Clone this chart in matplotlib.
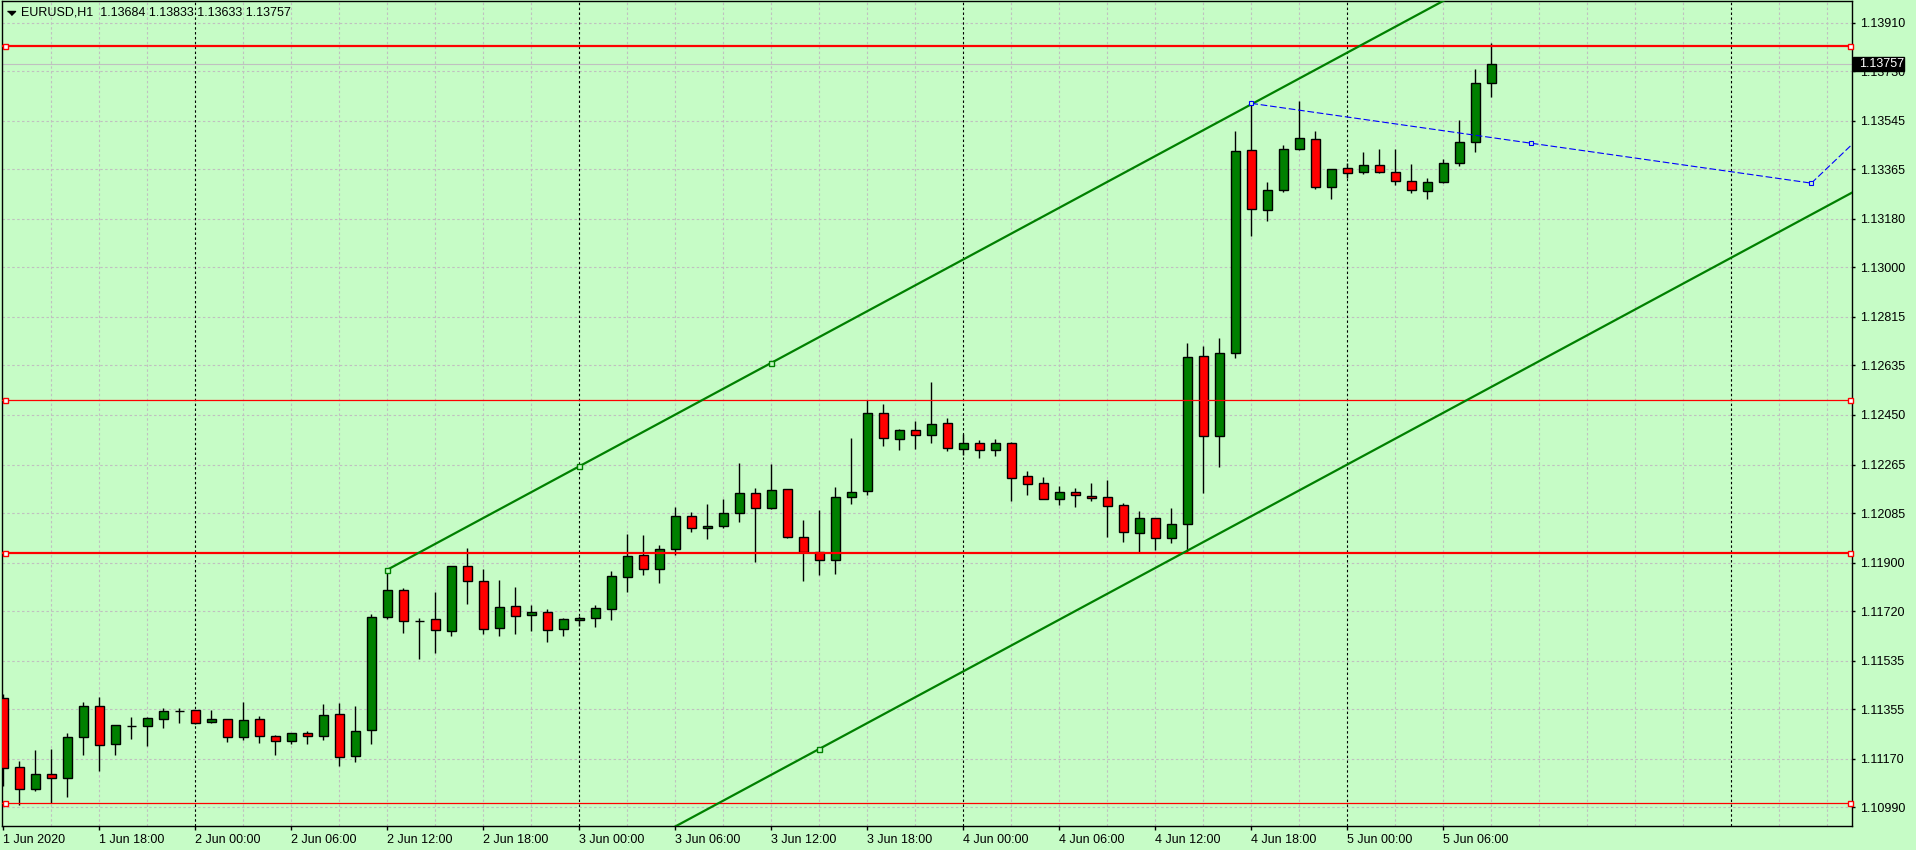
"""
EURUSD H1 蜡烛图（MT4 风格）复刻。
"""

import matplotlib
matplotlib.use("Agg")

import matplotlib.pyplot as plt
import matplotlib.transforms as mtransforms
import numpy as np
from matplotlib.patches import Rectangle


BG = "#c6fcc6"
GRID = "#c0c0c0"
GREEN = "#008000"
RED = "#ff0000"

symbol_text = "EURUSD,H1  1.13684 1.13833 1.13633 1.13757"

# 每根 K 线：开 / 高 / 低 / 收（1 Jun 12:00 起，每小时一根）
opens = [
    1.11395, 1.11139, 1.11057, 1.11112, 1.11098, 1.11250, 1.11366, 1.11224, 1.11293, 1.11291,
    1.11320, 1.11348, 1.11351, 1.11308, 1.11317, 1.11250, 1.11317, 1.11254, 1.11235, 1.11265,
    1.11254, 1.11336, 1.11180, 1.11276, 1.11697, 1.11797, 1.11684, 1.11689, 1.11645, 1.11887,
    1.11831, 1.11656, 1.11738, 1.11704, 1.11716, 1.11652, 1.11686, 1.11693, 1.11727, 1.11846,
    1.11928, 1.11876, 1.11950, 1.12073, 1.12028, 1.12036, 1.12084, 1.12158, 1.12103, 1.12173,
    1.11995, 1.11939, 1.11909, 1.12144, 1.12166, 1.12456, 1.12359, 1.12393, 1.12374, 1.12419,
    1.12322, 1.12345, 1.12319, 1.12345, 1.12222, 1.12196, 1.12138, 1.12162, 1.12147, 1.12144,
    1.12114, 1.12010, 1.12065, 1.11991, 1.12043, 1.12668, 1.12371, 1.12680, 1.13435, 1.13212,
    1.13286, 1.13439, 1.13476, 1.13297, 1.13368, 1.13353, 1.13379, 1.13353, 1.13320, 1.13282,
    1.13316, 1.13387, 1.13465, 1.13684,
]
highs = [
    1.11411, 1.11162, 1.11203, 1.11207, 1.11266, 1.11380, 1.11400, 1.11297, 1.11326, 1.11326,
    1.11359, 1.11359, 1.11353, 1.11352, 1.11319, 1.11382, 1.11330, 1.11259, 1.11267, 1.11273,
    1.11374, 1.11377, 1.11367, 1.11708, 1.11874, 1.11805, 1.11693, 1.11791, 1.11889, 1.11954,
    1.11877, 1.11836, 1.11809, 1.11742, 1.11727, 1.11693, 1.11702, 1.11742, 1.11869, 1.12007,
    1.12003, 1.11966, 1.12107, 1.12089, 1.12119, 1.12137, 1.12271, 1.12178, 1.12268, 1.12175,
    1.12059, 1.12096, 1.12182, 1.12364, 1.12506, 1.12491, 1.12397, 1.12428, 1.12573, 1.12439,
    1.12379, 1.12357, 1.12360, 1.12348, 1.12240, 1.12218, 1.12184, 1.12177, 1.12196, 1.12207,
    1.12121, 1.12091, 1.12067, 1.12103, 1.12717, 1.12707, 1.12735, 1.13507, 1.13610, 1.13316,
    1.13454, 1.13619, 1.13506, 1.13366, 1.13387, 1.13428, 1.13439, 1.13439, 1.13383, 1.13331,
    1.13402, 1.13547, 1.13737, 1.13833,
]
lows = [
    1.11070, 1.10998, 1.11052, 1.11005, 1.11029, 1.11186, 1.11126, 1.11186, 1.11245, 1.11219,
    1.11286, 1.11305, 1.11299, 1.11305, 1.11234, 1.11241, 1.11230, 1.11186, 1.11226, 1.11226,
    1.11241, 1.11145, 1.11159, 1.11226, 1.11690, 1.11640, 1.11543, 1.11565, 1.11628, 1.11748,
    1.11636, 1.11628, 1.11636, 1.11647, 1.11606, 1.11628, 1.11665, 1.11662, 1.11686, 1.11790,
    1.11853, 1.11823, 1.11929, 1.12015, 1.11989, 1.12028, 1.12053, 1.11903, 1.12099, 1.11993,
    1.11833, 1.11855, 1.11859, 1.12120, 1.12152, 1.12333, 1.12319, 1.12324, 1.12347, 1.12315,
    1.12301, 1.12291, 1.12298, 1.12131, 1.12153, 1.12136, 1.12116, 1.12109, 1.12131, 1.11997,
    1.11978, 1.11941, 1.11947, 1.11975, 1.11938, 1.12161, 1.12257, 1.12661, 1.13117, 1.13173,
    1.13279, 1.13436, 1.13290, 1.13255, 1.13331, 1.13346, 1.13350, 1.13305, 1.13275, 1.13253,
    1.13312, 1.13376, 1.13428, 1.13633,
]
closes = [
    1.11135, 1.11057, 1.11112, 1.11098, 1.11250, 1.11366, 1.11220, 1.11295, 1.11293, 1.11321,
    1.11347, 1.11348, 1.11305, 1.11317, 1.11250, 1.11314, 1.11254, 1.11235, 1.11265, 1.11254,
    1.11332, 1.11176, 1.11273, 1.11697, 1.11797, 1.11682, 1.11684, 1.11648, 1.11887, 1.11831,
    1.11652, 1.11734, 1.11701, 1.11716, 1.11648, 1.11689, 1.11693, 1.11730, 1.11850, 1.11924,
    1.11876, 1.11950, 1.12073, 1.12028, 1.12036, 1.12084, 1.12158, 1.12103, 1.12170, 1.11995,
    1.11939, 1.11909, 1.12144, 1.12162, 1.12456, 1.12363, 1.12393, 1.12374, 1.12415, 1.12326,
    1.12345, 1.12319, 1.12345, 1.12216, 1.12194, 1.12138, 1.12162, 1.12151, 1.12140, 1.12112,
    1.12013, 1.12065, 1.11991, 1.12043, 1.12665, 1.12371, 1.12680, 1.13431, 1.13215, 1.13286,
    1.13439, 1.13480, 1.13297, 1.13364, 1.13350, 1.13379, 1.13353, 1.13320, 1.13286, 1.13316,
    1.13387, 1.13465, 1.13684, 1.13757,
]

time_labels = [
    "1 Jun 2020", "1 Jun 18:00", "2 Jun 00:00", "2 Jun 06:00", "2 Jun 12:00",
    "2 Jun 18:00", "3 Jun 00:00", "3 Jun 06:00", "3 Jun 12:00", "3 Jun 18:00",
    "4 Jun 00:00", "4 Jun 06:00", "4 Jun 12:00", "4 Jun 18:00", "5 Jun 00:00",
    "5 Jun 06:00",
]
price_ticks = [
    1.13910, 1.13730, 1.13545, 1.13365, 1.13180, 1.13000, 1.12815, 1.12635, 1.12450,
    1.12265, 1.12085, 1.11900, 1.11720, 1.11535, 1.11355, 1.11170, 1.10990,
]
last_price = 1.13757

red_levels_thick = [1.13822, 1.11935]
red_levels_thin = [1.12506, 1.11005]

# 等距通道：上轨两个锚点 + 下轨一个锚点
channel_upper = [(24, 1.11874), (48, 1.12644)]
channel_lower_point = (51, 1.11207)

# 蓝色趋势线
blue_line = [(78, 1.13610), (113, 1.13313)]
blue_tail = (116, 1.13483)

HOURS_PER_LABEL = 6


def draw_grid(ax, n_slots) -> None:
    """
    灰色虚线网格 + 黑色日分隔线。
    """
    for v in price_ticks:
        ax.axhline(v, color=GRID, lw=0.8, ls=(0, (2.2, 2.2)), zorder=1)
    for xv in range(3, n_slots, 3):
        if (xv - 12) % 24 == 0:
            ax.axvline(xv, color="black", lw=0.8, ls=(0, (2.2, 2.2)), zorder=1)
        else:
            ax.axvline(xv, color=GRID, lw=0.8, ls=(0, (2.2, 2.2)), zorder=1)


def draw_candles(ax) -> None:
    """
    画蜡烛：影线 + 实体。
    """
    o = np.array(opens)
    h = np.array(highs)
    l = np.array(lows)
    c = np.array(closes)
    x = np.arange(len(o))

    colors = np.where(c > o, GREEN, np.where(c < o, RED, "black"))

    ax.vlines(x, l, h, color="black", lw=1, zorder=3)
    ax.bar(x, np.abs(c - o), bottom=np.minimum(o, c), width=0.58,
           color=colors, edgecolor="black", linewidth=1, zorder=4)


def draw_objects(ax, x_end) -> None:
    """
    水平线、通道、趋势线。
    """
    ax.axhline(last_price, color=GRID, lw=0.8, zorder=2)

    for v in red_levels_thick:
        ax.axhline(v, color=RED, lw=1.6, zorder=6)
        ax.plot([0.1, 115.4], [v, v], "s", ms=3.6, mfc="white", mec=RED,
                mew=1, zorder=7, clip_on=False)
    for v in red_levels_thin:
        ax.axhline(v, color=RED, lw=0.9, zorder=6)
        ax.plot([0.1, 115.4], [v, v], "s", ms=3.6, mfc="white", mec=RED,
                mew=1, zorder=7, clip_on=False)

    (x1, y1), (x2, y2) = channel_upper
    slope = (y2 - y1) / (x2 - x1)
    xs = np.array([x1, x_end])
    ax.plot(xs, y1 + slope * (xs - x1), color=GREEN, lw=1.6, zorder=6)
    lx, ly = channel_lower_point
    offset = ly - (y1 + slope * (lx - x1))
    ax.plot(xs, y1 + slope * (xs - x1) + offset, color=GREEN, lw=1.6, zorder=6)

    mid = (x1 + x2) / 2
    ax.plot([x1, mid, x2], [y1, y1 + slope * (mid - x1), y2], "s", ms=3.6,
            mfc=BG, mec=GREEN, mew=1, zorder=7)
    ax.plot([lx], [ly], "s", ms=3.6, mfc=BG, mec=GREEN, mew=1, zorder=7)

    (bx1, by1), (bx2, by2) = blue_line
    ax.plot([bx1, bx2], [by1, by2], color="blue", lw=0.8, dashes=(6, 2.5), zorder=6)
    ax.plot([bx2, blue_tail[0]], [by2, blue_tail[1]], color="blue", lw=0.8,
            dashes=(6, 2.5), zorder=6)
    ax.plot([bx1, (bx1 + bx2) / 2, bx2], [by1, (by1 + by2) / 2, by2], "s",
            ms=3.2, mfc=BG, mec="blue", mew=0.8, zorder=7)


def main() -> None:
    plt.rcParams["font.family"] = ["Liberation Sans", "DejaVu Sans"]

    fig = plt.figure(figsize=(19.16, 8.5), dpi=100, facecolor=BG)
    ax = fig.add_axes([2 / 1916, 24 / 850, 1850 / 1916, 825 / 850], facecolor=BG)

    x_left, x_right = -0.08, 115.54
    ax.set_xlim(x_left, x_right)
    ax.set_ylim(1.10920, 1.13991)

    draw_grid(ax, 116)
    draw_candles(ax)
    draw_objects(ax, x_right + 1)

    # 坐标轴
    for sp in ax.spines.values():
        sp.set_color("black")
        sp.set_linewidth(1)

    ax.yaxis.tick_right()
    ax.set_yticks(price_ticks)
    ax.set_yticklabels([f"{v:.5f}" for v in price_ticks])
    ax.tick_params(axis="y", direction="out", length=2.5, width=1, pad=3,
                   labelsize=9, colors="black")

    ax.set_xticks(np.arange(len(time_labels)) * HOURS_PER_LABEL)
    ax.set_xticklabels(time_labels)
    for lab in ax.get_xticklabels():
        lab.set_horizontalalignment("left")
    ax.tick_params(axis="x", direction="out", length=3, width=1, pad=3,
                   labelsize=9, colors="black")

    # 当前价格标签
    blend = mtransforms.blended_transform_factory(ax.transAxes, ax.transData)
    ax.add_patch(Rectangle((1.0005, last_price - 0.00026), 0.0276, 0.00052,
                           transform=blend, facecolor="black", edgecolor="black",
                           clip_on=False, zorder=10))
    ax.text(1.0038, last_price, f"{last_price:.5f}", transform=blend, color="white",
            ha="left", va="center", fontsize=9, clip_on=False, zorder=11)

    # 左上角品种信息
    tri = [(-1, 0.5), (1, 0.5), (0, -0.5)]
    ax.plot([0.00476], [0.9858], marker=tri, ms=5.8, color="black",
            transform=ax.transAxes, clip_on=False, zorder=10)
    fig.text(21 / 1916, 1 - 12.7 / 850, symbol_text, ha="left", va="center",
             fontsize=9, color="black")

    fig.savefig("out.png", dpi=100, facecolor=BG)
    plt.close(fig)


if __name__ == "__main__":
    main()
